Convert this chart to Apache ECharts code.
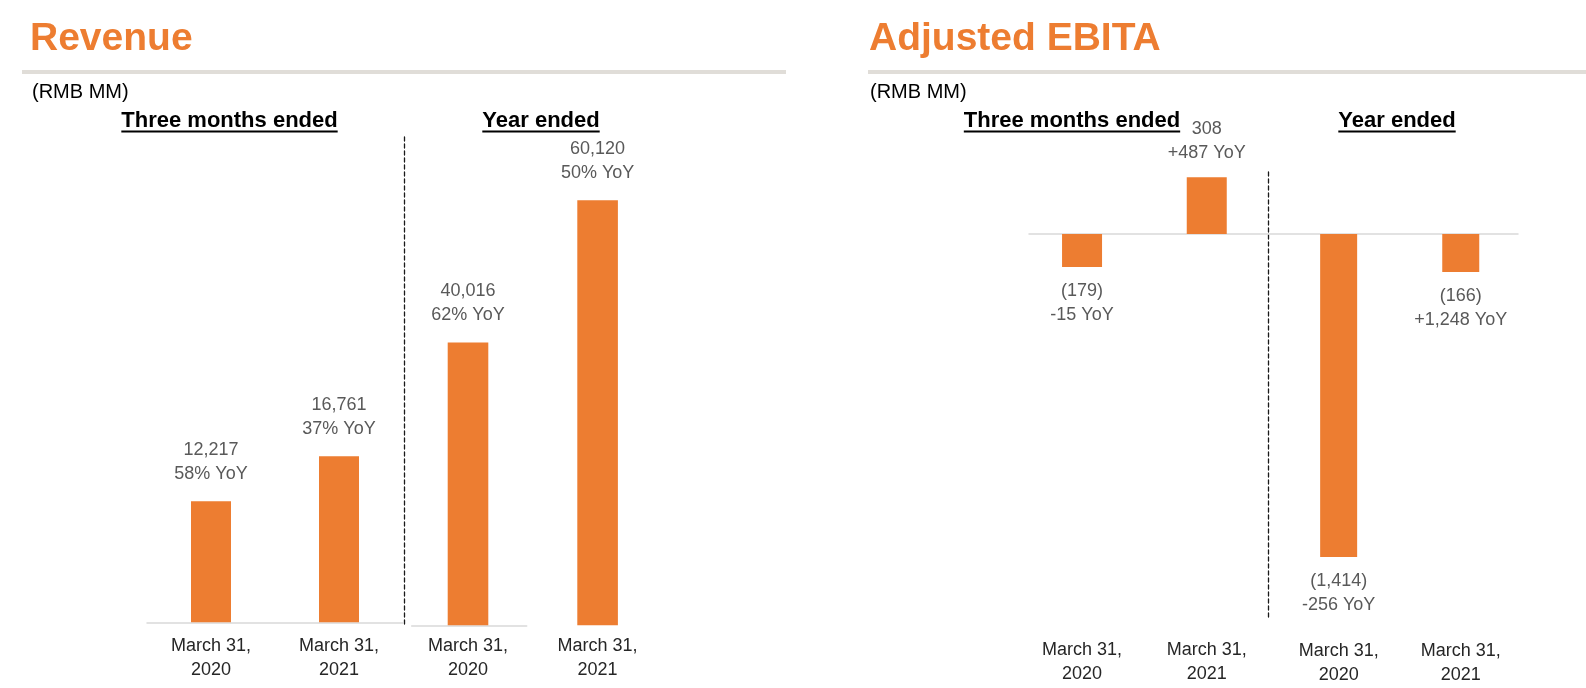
<!DOCTYPE html>
<html>
<head>
<meta charset="utf-8">
<script src="https://cdn.jsdelivr.net/npm/echarts@6/dist/echarts.min.js"></script>
<style>
  html, body { margin: 0; padding: 0; background: #ffffff; }
  #chart { width: 1586px; height: 688px; }
</style>
</head>
<body>
<div id="chart"></div>
<script>
// ---------------- data ----------------
const panelTitles = ['Revenue', 'Adjusted EBITA'];
const unitLabel = '(RMB MM)';
const groupTitles = ['Three months ended', 'Year ended'];
const quarterCategories = ['March 31,\n2020', 'March 31,\n2021'];
const yearCategories = ['March 31,\n2020', 'March 31,\n2021'];

const revenueQuarter = [12217, 16761];
const revenueQuarterYoY = [58, 37];      // % YoY
const revenueYear = [40016, 60120];
const revenueYearYoY = [62, 50];         // % YoY

const ebitaQuarter = [-179, 308];
const ebitaQuarterYoY = [-15, 487];      // change YoY
const ebitaYear = [-1414, -166];
const ebitaYearYoY = [-256, 1248];       // change YoY

// ---------------- styling ----------------
const FONT = '"Liberation Sans", Arial, sans-serif';
const ORANGE = '#ED7D31';
const LABEL_GRAY = '#595959';
const AXIS_GRAY = '#d9d9d9';
const TEXT_DARK = '#262626';

function num(v) { return Math.abs(v).toLocaleString('en-US'); }
function revLabel(yoyArr) {
  return p => num(p.value) + '\n' + yoyArr[p.dataIndex] + '% YoY';
}
function ebitaLabel(yoyArr) {
  return p => {
    const v = p.value, y = yoyArr[p.dataIndex];
    const main = v < 0 ? '(' + num(v) + ')' : num(v);
    return main + '\n' + (y < 0 ? '-' : '+') + num(y) + ' YoY';
  };
}
function ebitaData(arr) {
  return arr.map(v => v < 0 ? { value: v, label: { position: 'bottom' } } : v);
}

const measureCtx = document.createElement('canvas').getContext('2d');
function textWidth(str, font) { measureCtx.font = font; return measureCtx.measureText(str).width; }

const chart = echarts.init(document.getElementById('chart'), null, { renderer: 'canvas' });

const catAxisLabel = (margin) => ({
  show: true, margin: margin, color: TEXT_DARK, fontFamily: FONT, fontSize: 18,
  lineHeight: 24, align: 'center', interval: 0
});
const hiddenValueAxis = (gi, min, max) => ({
  type: 'value', gridIndex: gi, min: min, max: max, show: false,
  splitLine: { show: false }
});
const helperY = (gi, showLine, dashed) => ({
  type: 'value', gridIndex: gi, min: 0, max: 1, show: showLine,
  axisLine: { show: showLine, onZero: false, lineStyle: { color: '#1a1a1a', width: 1.3, type: dashed ? [4, 3] : 'solid' } },
  axisTick: { show: false }, axisLabel: { show: false }, splitLine: { show: false }
});
const helperX = (gi, showLine) => ({
  type: 'category', gridIndex: gi, data: [''], show: showLine,
  axisLine: { show: showLine, onZero: false, lineStyle: { color: AXIS_GRAY, width: 1.5 } },
  axisTick: { show: false }, axisLabel: { show: false }, splitLine: { show: false }
});

const grids = [
  { left: 147, top: 127, width: 256, height: 495.3 },      // 0 revenue quarter
  { left: 403.2, top: 59.7, width: 259.2, height: 565.6 }, // 1 revenue year
  { left: 411.7, top: 600, width: 115, height: 25.3 },     // 2 helper baseline (year)
  { left: 404, top: 136, width: 10, height: 488 },         // 3 helper dashed separator
  { left: 1019.7, top: 105.2, width: 249.4, height: 515.2 },// 4 ebita quarter
  { left: 1277.6, top: 74.05, width: 244.2, height: 548.4 },// 5 ebita year
  { left: 1029, top: 200, width: 489, height: 34 },        // 6 helper zero line
  { left: 1268.3, top: 170, width: 10, height: 447 }       // 7 helper dashed separator
];

const xAxes = [
  { type: 'category', gridIndex: 0, data: quarterCategories,
    axisLine: { show: true, lineStyle: { color: AXIS_GRAY, width: 1.5 } },
    axisTick: { show: false }, axisLabel: catAxisLabel(12) },
  { type: 'category', gridIndex: 1, data: yearCategories,
    axisLine: { show: false }, axisTick: { show: false }, axisLabel: catAxisLabel(9) },
  helperX(2, true),
  helperX(3, false),
  { type: 'category', gridIndex: 4, data: quarterCategories, position: 'bottom',
    axisLine: { show: false, onZero: false }, axisTick: { show: false }, axisLabel: catAxisLabel(17.6) },
  { type: 'category', gridIndex: 5, data: yearCategories, position: 'bottom',
    axisLine: { show: false, onZero: false }, axisTick: { show: false }, axisLabel: catAxisLabel(16.2) },
  helperX(6, true),
  helperX(7, false)
];

const yAxes = [
  hiddenValueAxis(0, 0, 50000),
  hiddenValueAxis(1, 0, 80000),
  helperY(2, false, false),
  helperY(3, true, true),
  hiddenValueAxis(4, -2100, 700),
  hiddenValueAxis(5, -1700, 700),
  helperY(6, false, false),
  helperY(7, true, true)
];

const barLabel = (fmt, dist) => ({
  show: true, position: 'top', distance: dist, formatter: fmt,
  color: LABEL_GRAY, fontFamily: FONT, fontSize: 18, lineHeight: 24, align: 'center'
});

const series = [
  { type: 'bar', xAxisIndex: 0, yAxisIndex: 0, data: revenueQuarter, barWidth: 40,
    itemStyle: { color: ORANGE }, label: barLabel(revLabel(revenueQuarterYoY), 15), z: 3 },
  { type: 'bar', xAxisIndex: 1, yAxisIndex: 1, data: revenueYear, barWidth: 40.6,
    itemStyle: { color: ORANGE }, label: barLabel(revLabel(revenueYearYoY), 15), z: 3 },
  { type: 'bar', xAxisIndex: 4, yAxisIndex: 4, data: ebitaData(ebitaQuarter), barWidth: 40,
    itemStyle: { color: ORANGE }, label: barLabel(ebitaLabel(ebitaQuarterYoY), 12), z: 3 },
  { type: 'bar', xAxisIndex: 5, yAxisIndex: 5, data: ebitaData(ebitaYear), barWidth: 37,
    itemStyle: { color: ORANGE }, label: barLabel(ebitaLabel(ebitaYearYoY), 12), z: 3 }
];

// ---------------- decorations (titles, rules, headers) ----------------
const headerFont = 'bold 22px ' + FONT;
const headers = [
  { text: groupTitles[0], cx: 229.5 },
  { text: groupTitles[1], cx: 541 },
  { text: groupTitles[0], cx: 1072 },
  { text: groupTitles[1], cx: 1397 }
];
const graphic = [
  { type: 'rect', shape: { x: 22, y: 70, width: 764, height: 4 }, style: { fill: '#e0ddd8' }, silent: true },
  { type: 'rect', shape: { x: 868, y: 70, width: 718, height: 4 }, style: { fill: '#e0ddd8' }, silent: true },
  { type: 'text', x: 30, y: 39, style: { text: panelTitles[0], font: 'bold 39px ' + FONT, fill: ORANGE, textAlign: 'left', textVerticalAlign: 'middle' } },
  { type: 'text', x: 869, y: 39, style: { text: panelTitles[1], font: 'bold 39px ' + FONT, fill: ORANGE, textAlign: 'left', textVerticalAlign: 'middle' } },
  { type: 'text', x: 32, y: 92, style: { text: unitLabel, font: '20px ' + FONT, fill: '#000', textAlign: 'left', textVerticalAlign: 'middle' } },
  { type: 'text', x: 870, y: 92, style: { text: unitLabel, font: '20px ' + FONT, fill: '#000', textAlign: 'left', textVerticalAlign: 'middle' } }
];
headers.forEach(h => {
  const w = textWidth(h.text, headerFont);
  graphic.push({ type: 'text', x: h.cx, y: 121, style: { text: h.text, font: headerFont, fill: '#000', textAlign: 'center', textVerticalAlign: 'middle' } });
  graphic.push({ type: 'line', shape: { x1: h.cx - w / 2, y1: 131.5, x2: h.cx + w / 2, y2: 131.5 }, style: { stroke: '#000', lineWidth: 2 }, silent: true });
});

chart.setOption({
  animation: false,
  backgroundColor: '#ffffff',
  grid: grids,
  xAxis: xAxes,
  yAxis: yAxes,
  series: series,
  graphic: graphic
});
</script>
</body>
</html>
